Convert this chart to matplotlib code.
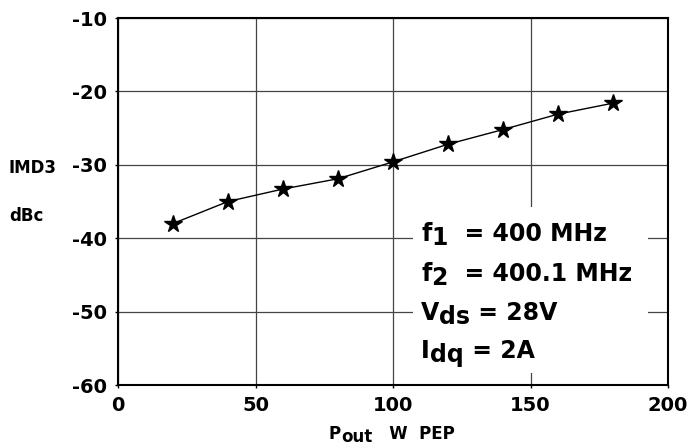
import matplotlib
matplotlib.use("Agg")
import matplotlib.pyplot as plt
from matplotlib.patches import Rectangle
from matplotlib.transforms import offset_copy

plt.rcParams['font.family'] = ['DejaVu Sans']
plt.rcParams['font.weight'] = 'bold'
plt.rcParams['axes.unicode_minus'] = False

# data
pout = [20, 40, 60, 80, 100, 120, 140, 160, 180]
imd3 = [-38.0, -35.0, -33.3, -31.9, -29.6, -27.2, -25.2, -23.1, -21.6]
xticks = [0, 50, 100, 150, 200]
yticks = [-60, -50, -40, -30, -20, -10]
# (main text, subscript, rest)
notes = [('f', '1', '  = 400 MHz'), ('f', '2', '  = 400.1 MHz'),
         ('V', 'ds', ' = 28V'), ('I', 'dq', ' = 2A')]

W, H = 688, 448
fig = plt.figure(figsize=(W / 100, H / 100), dpi=100)
ax = fig.add_axes([118 / W, 1 - 385 / H, 550 / W, 367 / H])
renderer = fig.canvas.get_renderer()


def put_pieces(px, py, pieces, size):
    # write text pieces one after another, dy in pixels (sub-script drop)
    dx = 0
    for s, dy in pieces:
        tr = offset_copy(fig.transFigure, fig, x=dx, y=-dy, units='dots')
        t = fig.text(px / W, 1 - py / H, s, transform=tr, fontsize=size,
                     fontweight='bold', va='baseline', ha='left', zorder=5)
        dx += t.get_window_extent(renderer).width


ax.plot(pout, imd3, color='black', lw=1.0, marker='*', markersize=13, zorder=3)

ax.set_xlim(0, 200)
ax.set_ylim(-60, -10)
ax.set_xticks(xticks)
ax.set_yticks(yticks)
ax.tick_params(labelsize=14, length=2, width=1, direction='out', pad=6)
for lab in ax.get_xticklabels() + ax.get_yticklabels():
    lab.set_fontweight('bold')

ax.set_axisbelow(True)
ax.grid(True, color='#444444', lw=0.9)
for s in ax.spines.values():
    s.set_linewidth(1.5)

# white box behind the conditions text
ax.add_patch(Rectangle((0.536, 0.033), 0.428, 0.452, transform=ax.transAxes,
                       facecolor='white', edgecolor='none', zorder=1))
baselines = [241, 281, 320, 358]
for (a, b, c), y in zip(notes, baselines):
    put_pieces(421, y, [(a, 0), (b, 4), (c, 0)], 17)

fig.text(9 / W, 1 - 168 / H, 'IMD3', fontsize=12, fontweight='bold', va='center')
fig.text(9 / W, 1 - 216 / H, 'dBc', fontsize=12, fontweight='bold', va='center')
put_pieces(329, 439, [('P', 0), ('out', 3), ('   W  PEP', 0)], 12)

fig.savefig('out.png', dpi=100)
